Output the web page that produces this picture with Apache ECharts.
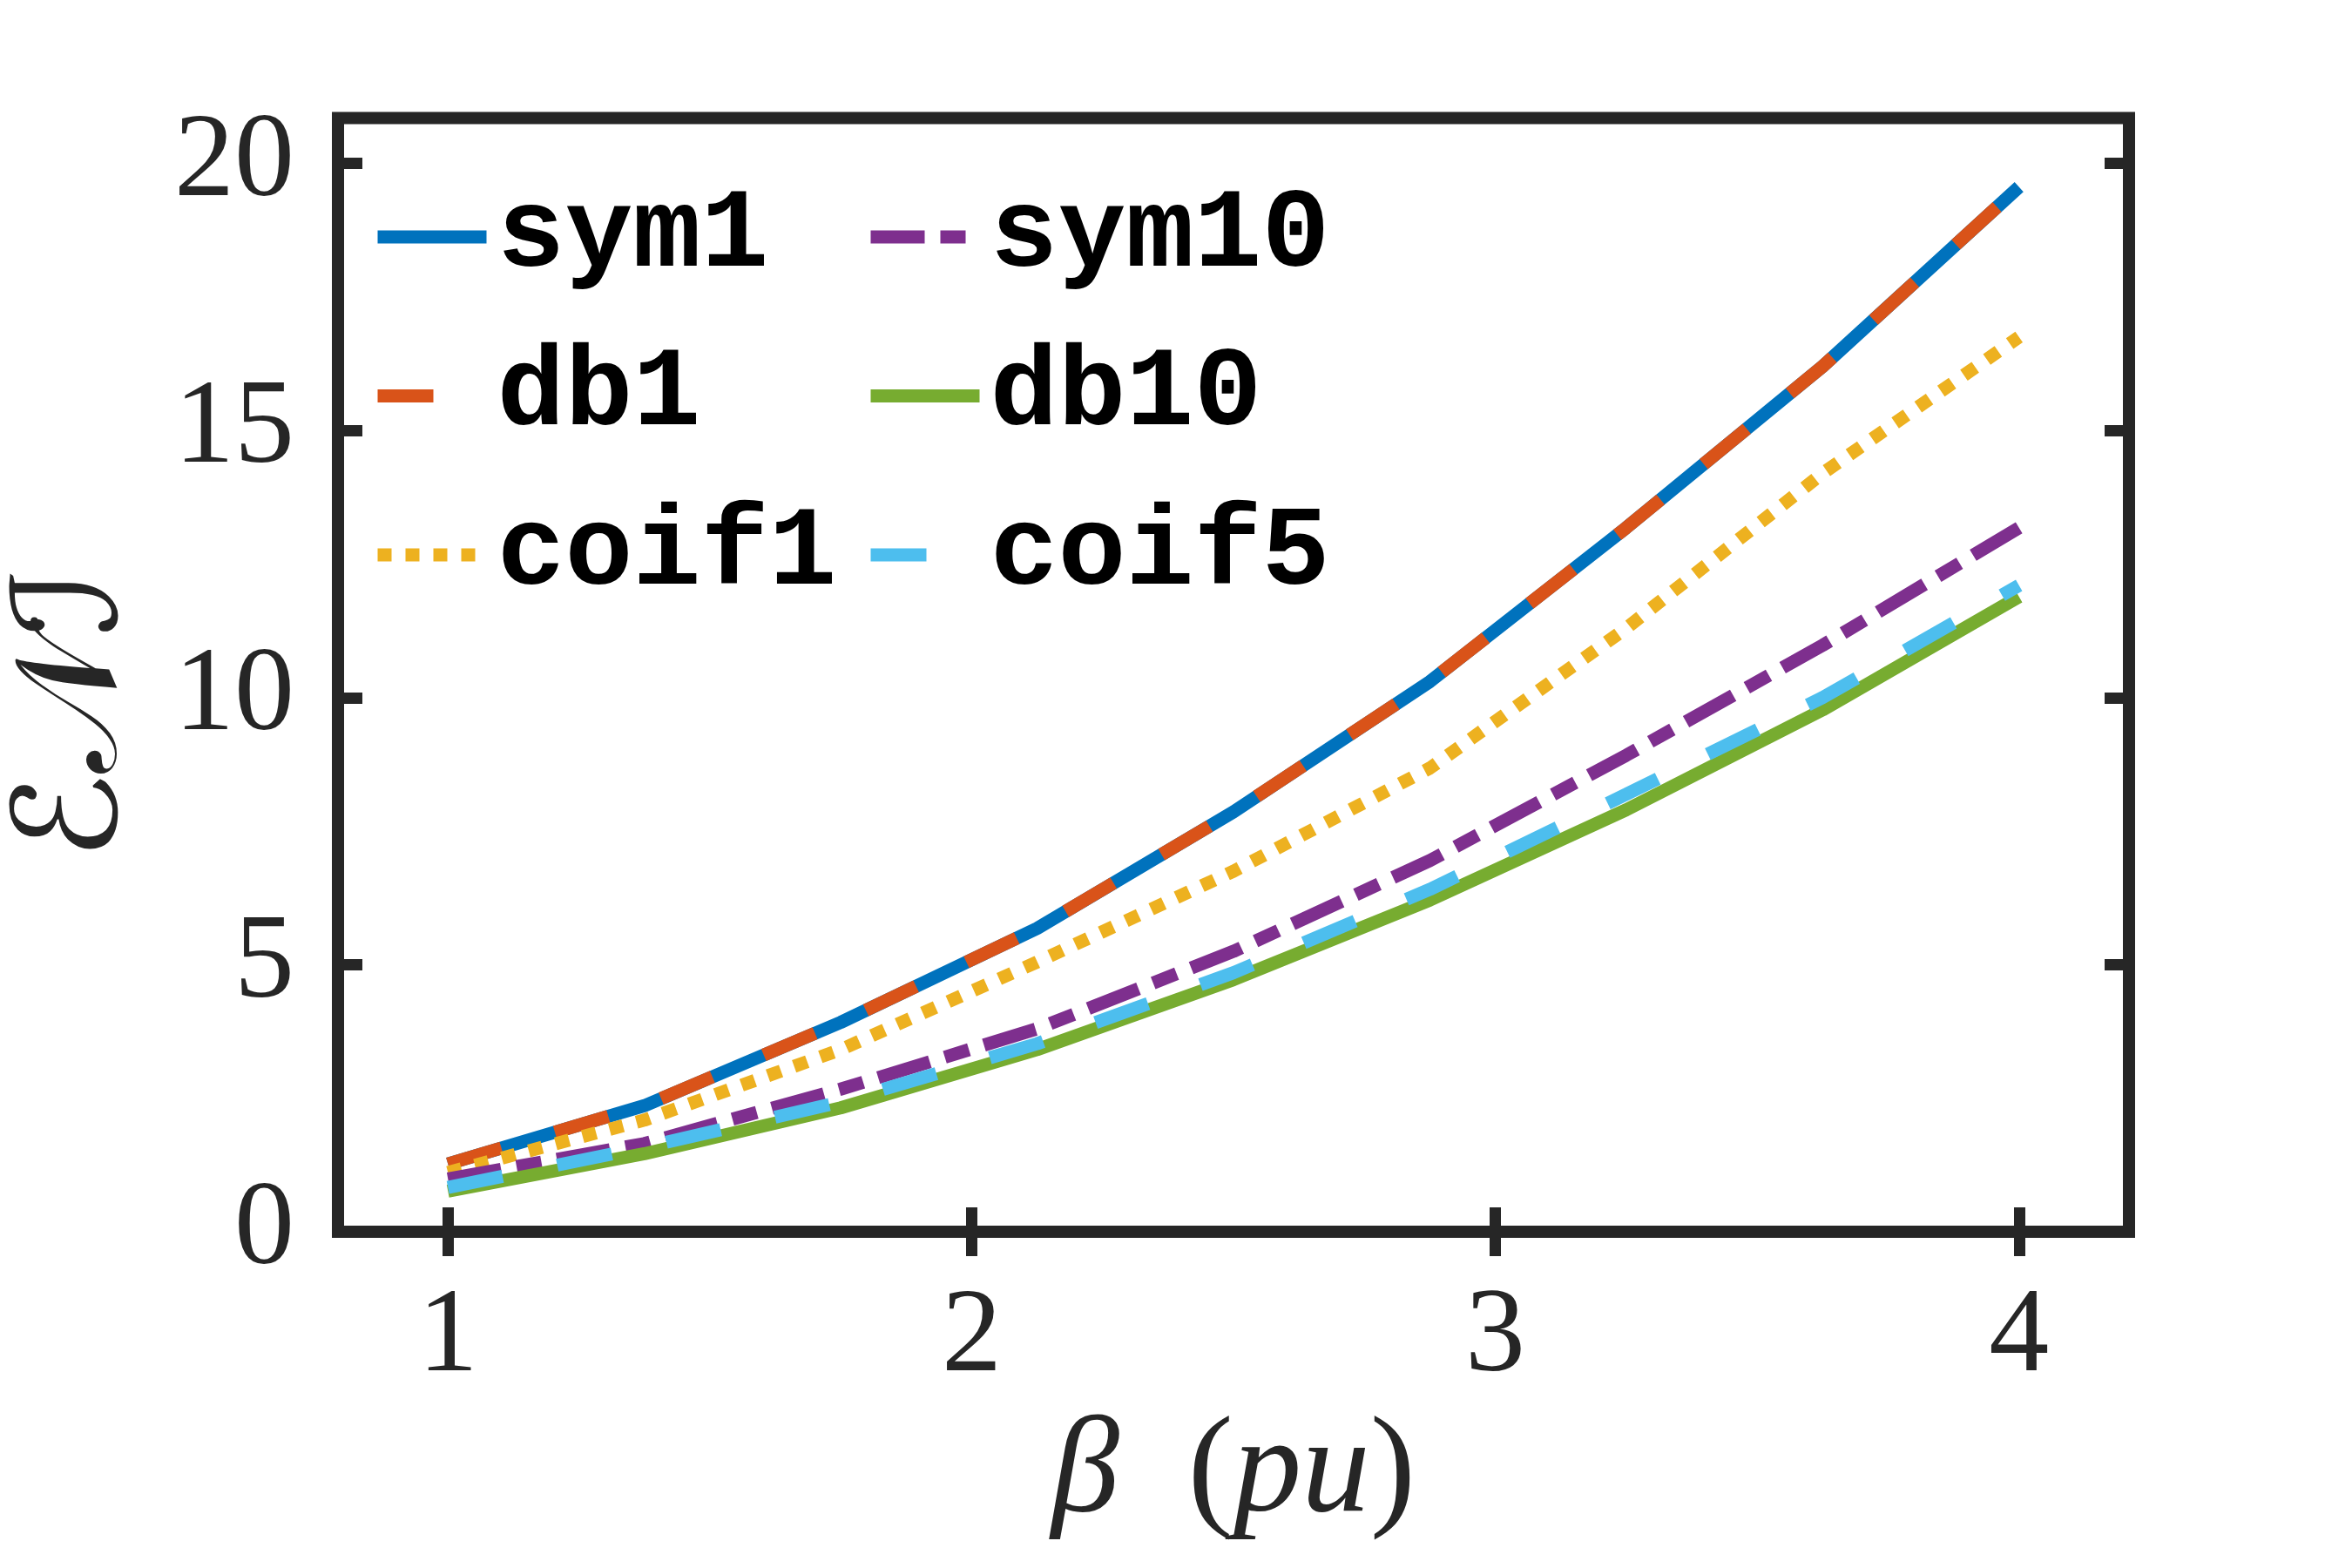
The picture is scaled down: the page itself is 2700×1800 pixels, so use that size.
<!DOCTYPE html>
<html>
<head>
<meta charset="utf-8">
<script src="https://cdn.jsdelivr.net/npm/echarts@6/dist/echarts.min.js"></script>
<style>
html, body { margin: 0; padding: 0; background: #fff; }
#chart { width: 2700px; height: 1800px; }
</style>
</head>
<body>
<div id="chart"></div>
<script>
// beta (pu) sample points
var betaVals = [1, 1.375, 1.75, 2.125, 2.5, 2.875, 3.25, 3.625, 4];

// ENI values
var sym1Vals  = [1.27, 2.36, 3.92, 5.68, 7.86, 10.30, 13.18, 16.20, 19.56];
var db1Vals   = [1.27, 2.36, 3.92, 5.68, 7.86, 10.30, 13.18, 16.20, 19.56];
var coif1Vals = [1.11, 2.09, 3.41, 5.05, 6.75, 8.68, 11.30, 14.20, 16.75];
var sym10Vals = [0.99, 1.65, 2.67, 3.80, 5.25, 6.95, 8.92, 10.98, 13.18];
var db10Vals  = [0.76, 1.46, 2.32, 3.41, 4.72, 6.21, 7.90, 9.77, 11.89];
var coif5Vals = [0.83, 1.58, 2.43, 3.52, 4.85, 6.41, 8.19, 10.00, 12.10];

var xTicks = [1, 2, 3, 4];
var yTicks = [0, 5, 10, 15, 20];

var legendCol1 = ['sym1', 'db1', 'coif1'];
var legendCol2 = ['sym10', 'db10', 'coif5'];

function pairs(ys) {
	var out = [];
	for (var i = 0; i < betaVals.length; i++) {
		out.push([betaVals[i], ys[i]]);
	}
	return out;
}

var axisColor = '#262626';
var tickStyle = { color: axisColor, width: 13 };

function lineSeries(name, vals, color, dash) {
	return {
		name: name,
		type: 'line',
		data: pairs(vals),
		symbol: 'none',
		showSymbol: false,
		lineStyle: { color: color, width: 15, type: dash, cap: 'butt' },
		itemStyle: { color: color },
		emphasis: { disabled: true }
	};
}

function legendCol(items, left) {
	return {
		data: items,
		orient: 'vertical',
		left: left,
		top: 207,
		padding: 0,
		itemWidth: 125,
		itemHeight: 130,
		itemGap: 52.5,
		selectedMode: false,
		lineStyle: { width: 15 },
		itemStyle: { opacity: 0 },
		textStyle: {
			fontFamily: 'Liberation Mono',
			fontWeight: 'bold',
			fontSize: 130,
			lineHeight: 130,
			color: '#000',
			padding: [0, 0, 0, 7]
		}
	};
}

var chart = echarts.init(document.getElementById('chart'), null, { renderer: 'canvas' });

var option = {
	animation: false,
	backgroundColor: '#fff',
	grid: {
		left: 379, right: 256, top: 135.5, bottom: 386,
		show: true, borderColor: axisColor, borderWidth: 14, containLabel: false
	},
	legend: [legendCol(legendCol1, 426), legendCol(legendCol2, 992)],
	xAxis: [{
		type: 'value',
		position: 'bottom',
		min: 0.79, max: 4.21,
		axisLine: { show: false },
		splitLine: { show: false },
		axisTick: { show: true, inside: true, length: 28, lineStyle: tickStyle, customValues: xTicks },
		axisLabel: {
			customValues: xTicks, margin: 54,
			fontFamily: 'Liberation Serif', fontSize: 138, color: axisColor
		},
		name: '{i|β}{n|  (}{i|pu}{n|)}',
		nameLocation: 'middle',
		nameGap: 200,
		nameTextStyle: {
			fontFamily: 'Liberation Serif', fontSize: 157, color: axisColor,
			rich: {
				i: { fontFamily: 'Liberation Serif', fontStyle: 'italic', fontSize: 157, color: axisColor },
				n: { fontFamily: 'Liberation Serif', fontSize: 157, color: axisColor }
			}
		}
	}, {
		type: 'value',
		position: 'top',
		min: 0.79, max: 4.21,
		axisLine: { show: false },
		splitLine: { show: false },
		axisTick: { show: true, inside: true, length: 28, lineStyle: tickStyle, customValues: xTicks },
		axisLabel: { show: false }
	}],
	yAxis: [{
		type: 'value',
		position: 'left',
		min: 0, max: 20.85,
		axisLine: { show: false },
		splitLine: { show: false },
		axisTick: { show: true, inside: true, length: 28, lineStyle: tickStyle, customValues: yTicks },
		axisLabel: {
			customValues: yTicks, margin: 50,
			fontFamily: 'Liberation Serif', fontSize: 138, color: axisColor
		},
		name: 'ℰ𝒩ℐ',
		nameLocation: 'middle',
		nameRotate: 90,
		nameGap: 215,
		nameTextStyle: {
			fontFamily: 'DejaVu Serif, DejaVu Sans', fontSize: 165, color: axisColor,
			padding: [0, 90, 0, 0]
		}
	}, {
		type: 'value',
		position: 'right',
		min: 0, max: 20.85,
		axisLine: { show: false },
		splitLine: { show: false },
		axisTick: { show: true, inside: true, length: 28, lineStyle: tickStyle, customValues: yTicks },
		axisLabel: { show: false }
	}],
	series: [
		lineSeries('sym1', sym1Vals, '#0072BD', 'solid'),
		lineSeries('db1', db1Vals, '#D95319', [64, 64]),
		lineSeries('coif1', coif1Vals, '#EDB120', [16, 16]),
		lineSeries('sym10', sym10Vals, '#7E2F8E', [62, 18, 29, 18]),
		lineSeries('db10', db10Vals, '#77AC30', 'solid'),
		lineSeries('coif5', coif5Vals, '#4DBEEE', [64, 64])
	]
};

chart.setOption(option);
</script>
</body>
</html>
